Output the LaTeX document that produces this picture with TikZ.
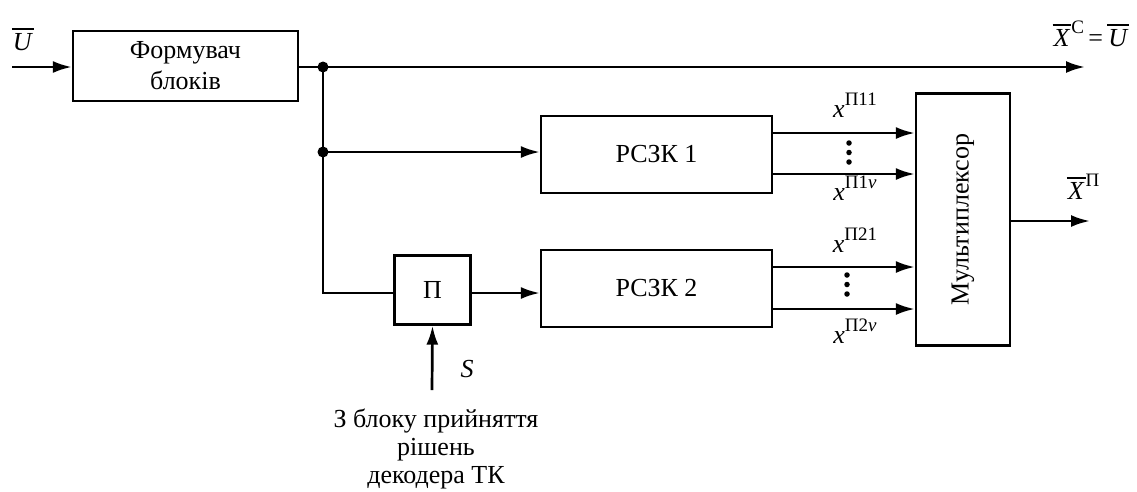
\documentclass[tikz,border=0pt]{standalone}
\usepackage{fontspec}
\setmainfont{Liberation Serif}
\usetikzlibrary{arrows.meta}
\newcommand{\ovl}[1]{\leavevmode\vbox{\hrule height 1.6pt\kern 3pt\hbox{\kern1pt\textit{#1}\kern1pt}}}
\newcommand{\supx}[1]{\textit{x}\raisebox{0.45em}{\fontsize{19}{19}\selectfont #1}}
\begin{document}
\begin{tikzpicture}[x=1pt,y=-1pt,
  font=\fontsize{26}{28}\selectfont,
  blk/.style={draw,line width=2.3pt,inner sep=0pt},
  conn/.style={line width=2.7pt},
  arr/.style={conn,-{Latex[length=19pt,width=12pt]}},
  dotc/.style={circle,fill,inner sep=0pt,minimum size=11pt},
  sdot/.style={circle,fill,inner sep=0pt,minimum size=5.5pt}]
\useasboundingbox (0,0) rectangle (1137,491);
% blocks
\node[blk,minimum width=225pt,minimum height=70pt,align=center] (form) at (185.5,66) {Формувач\\[3pt]блоків};
\node[blk,minimum width=231pt,minimum height=77pt] (r1) at (656.5,154.5) {РСЗК 1};
\node[blk,minimum width=231pt,minimum height=77pt] (r2) at (656.5,288.5) {РСЗК 2};
\node[blk,minimum width=76pt,minimum height=69pt] (p) at (432.5,290) {П};
\node[blk,minimum width=94pt,minimum height=252pt] (mux) at (963,219.5) {};
\node[rotate=90] (muxt) at (mux.center) {Мультиплексор};
% coordinates
\coordinate (in) at (12,67);
\coordinate (j1) at (323,67);
\coordinate (j2) at (323,152);
\coordinate (j3) at (323,293);
\coordinate (outc) at (1085,67);
\coordinate (outp) at (1090,221);
\coordinate (sfrom) at (432,390);
% dots
\node[dotc] (d1) at (j1) {};
\node[dotc] (d2) at (j2) {};
% connectors
\draw[arr] (in) -- (form.west |- in);
\draw[arr] (form.east |- j1) -- (outc);
\draw[conn] (j1) -- (j3) -- (p.west |- j3);
\draw[arr] (j2) -- (r1.west |- j2);
\draw[arr] (p.east |- j3) -- (r2.west |- j3);
\draw[arr] (sfrom) -- (p.south);
\draw[arr] (r1.east |- 0,133) -- (mux.west |- 0,133);
\draw[arr] (r1.east |- 0,174) -- (mux.west |- 0,174);
\draw[arr] (r2.east |- 0,267) -- (mux.west |- 0,267);
\draw[arr] (r2.east |- 0,309) -- (mux.west |- 0,309);
\draw[arr] (mux.east |- outp) -- (outp);
% vertical dots
\node[sdot] (v1) at (849,143) {};
\node[sdot] (v2) at (849,152.5) {};
\node[sdot] (v3) at (849,162) {};
\node[sdot] (v4) at (847,275) {};
\node[sdot] (v5) at (847,284.5) {};
\node[sdot] (v6) at (847,294) {};
% labels
\node[anchor=base] (lu) at (23,50) {\ovl{U}};
\node[anchor=base] (lxc) at (1091,46) {\ovl{X}\raisebox{0.5em}{\fontsize{19}{19}\selectfont С}\,=\,\ovl{U}};
\node[anchor=base] (lxp) at (1083,199) {\ovl{X}\raisebox{0.5em}{\fontsize{19}{19}\selectfont П}};
\node[anchor=base] (l11) at (855,117) {\supx{П11}};
\node[anchor=base] (l1v) at (855,200) {\supx{П1\textit{v}}};
\node[anchor=base] (l21) at (855,252) {\supx{П21}};
\node[anchor=base] (l2v) at (855,343) {\supx{П2\textit{v}}};
\node[anchor=base] (ls) at (467,377) {\textit{S}};
\node[anchor=base,align=center] (src) at (436,483) {З блоку прийняття\\рішень\\декодера ТК};
\end{tikzpicture}
\end{document}
